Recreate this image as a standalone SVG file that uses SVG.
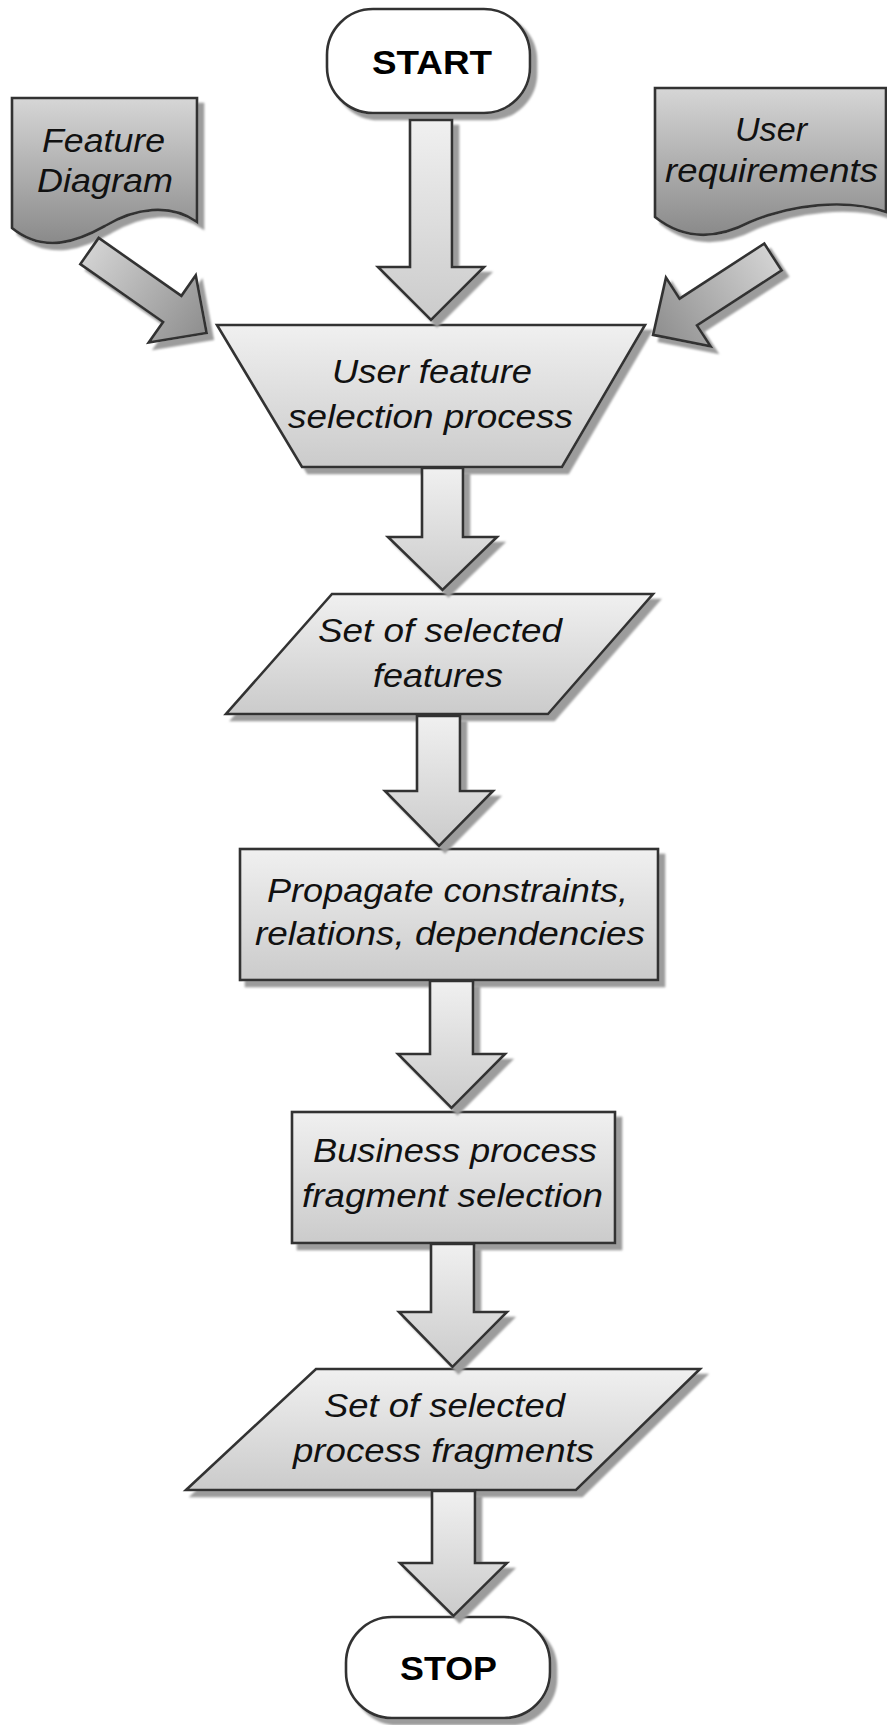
<svg xmlns="http://www.w3.org/2000/svg" width="887" height="1725" viewBox="0 0 887 1725">
  <defs>
    <linearGradient id="gLight" x1="0" y1="0" x2="0" y2="1">
      <stop offset="0" stop-color="#f0f0f0"/>
      <stop offset="1" stop-color="#cbcbcb"/>
    </linearGradient>
    <linearGradient id="gDoc" x1="0" y1="0" x2="0" y2="1">
      <stop offset="0" stop-color="#d6d6d6"/>
      <stop offset="1" stop-color="#8a8a8a"/>
    </linearGradient>
    <linearGradient id="gDiag" x1="0" y1="0" x2="1" y2="0">
      <stop offset="0" stop-color="#d2d2d2"/>
      <stop offset="1" stop-color="#8e8e8e"/>
    </linearGradient>
    <filter id="shadow" x="-15%" y="-15%" width="140%" height="140%">
      <feDropShadow dx="6" dy="6" stdDeviation="1" flood-color="#9c9c9c" flood-opacity="1"/>
    </filter>
  </defs>
  <style>
    .shape { stroke: #333; stroke-width: 2.6; stroke-linejoin: miter; }
    .lbl { font-family: "Liberation Sans", Arial, sans-serif; font-style: italic; font-size: 33px; fill: #111; }
    .term { font-family: "Liberation Sans", Arial, sans-serif; font-weight: bold; font-size: 34px; fill: #000; }
  </style>

  <rect x="0" y="0" width="887" height="1725" fill="#fff"/>

  <!-- start terminal -->
  <g id="start">
    <rect class="shape" x="327" y="9" width="203" height="104" rx="46" ry="46" fill="#fff" filter="url(#shadow)"/>
    <text class="term" x="372" y="74" textLength="120" lengthAdjust="spacingAndGlyphs">START</text>
  </g>

  <!-- input documents -->
  <g id="feature-diagram">
    <path class="shape" fill="url(#gDoc)" filter="url(#shadow)"
          d="M12,98 H197 V222 C170,203 135,208 105,226 C80,240 45,255 12,228 Z"/>
    <text class="lbl" x="42" y="152" textLength="123" lengthAdjust="spacingAndGlyphs">Feature</text>
    <text class="lbl" x="37" y="192" textLength="136" lengthAdjust="spacingAndGlyphs">Diagram</text>
  </g>

  <g id="user-requirements">
    <path class="shape" fill="url(#gDoc)" filter="url(#shadow)"
          d="M655,88 H886 V212 C845,198 790,205 750,222 C725,235 690,245 655,217 Z"/>
    <text class="lbl" x="735" y="141" textLength="72" lengthAdjust="spacingAndGlyphs">User</text>
    <text class="lbl" x="665" y="182" textLength="213" lengthAdjust="spacingAndGlyphs">requirements</text>
  </g>

  <!-- selection process (manual operation) -->
  <g id="user-selection">
    <polygon class="shape" fill="url(#gLight)" filter="url(#shadow)" points="217,325 645,325 562,467 302,467"/>
    <text class="lbl" x="332" y="383" textLength="200" lengthAdjust="spacingAndGlyphs">User feature</text>
    <text class="lbl" x="288" y="428" textLength="285" lengthAdjust="spacingAndGlyphs">selection process</text>
  </g>

  <g id="selected-features">
    <polygon class="shape" fill="url(#gLight)" filter="url(#shadow)" points="332,594 653,594 548,714 226,714"/>
    <text class="lbl" x="318" y="642" textLength="244" lengthAdjust="spacingAndGlyphs">Set of selected</text>
    <text class="lbl" x="373" y="687" textLength="130" lengthAdjust="spacingAndGlyphs">features</text>
  </g>

  <g id="propagate">
    <rect class="shape" fill="url(#gLight)" filter="url(#shadow)" x="240" y="849" width="418" height="131"/>
    <text class="lbl" x="267" y="902" textLength="361" lengthAdjust="spacingAndGlyphs">Propagate constraints,</text>
    <text class="lbl" x="255" y="945" textLength="390" lengthAdjust="spacingAndGlyphs">relations, dependencies</text>
  </g>

  <g id="fragment-selection">
    <rect class="shape" fill="url(#gLight)" filter="url(#shadow)" x="292" y="1112" width="323" height="131"/>
    <text class="lbl" x="313" y="1162" textLength="284" lengthAdjust="spacingAndGlyphs">Business process</text>
    <text class="lbl" x="302" y="1207" textLength="301" lengthAdjust="spacingAndGlyphs">fragment selection</text>
  </g>

  <g id="selected-fragments">
    <polygon class="shape" fill="url(#gLight)" filter="url(#shadow)" points="316,1369 700,1369 576,1490 186,1490"/>
    <text class="lbl" x="324" y="1417" textLength="241" lengthAdjust="spacingAndGlyphs">Set of selected</text>
    <text class="lbl" x="293" y="1462" textLength="301" lengthAdjust="spacingAndGlyphs">process fragments</text>
  </g>

  <!-- stop terminal -->
  <g id="stop">
    <rect class="shape" x="346" y="1617" width="204" height="101" rx="46" ry="46" fill="#fff" filter="url(#shadow)"/>
    <text class="term" x="400" y="1680" textLength="97" lengthAdjust="spacingAndGlyphs">STOP</text>
  </g>

  <!-- block arrows -->
  <g id="connectors">
    <polygon class="shape" fill="url(#gLight)" filter="url(#shadow)"
             points="410,120 452,120 452,267 484,267 431,320 378,267 410,267"/>
    <polygon class="shape" fill="url(#gLight)" filter="url(#shadow)"
             points="422,468 463,468 463,537 497,537 442.5,590 388,537 422,537"/>
    <polygon class="shape" fill="url(#gLight)" filter="url(#shadow)"
             points="417,716 460,716 460,791 493,791 439,846 385,791 417,791"/>
    <polygon class="shape" fill="url(#gLight)" filter="url(#shadow)"
             points="430,981 473,981 473,1054 505,1054 451.5,1108 398,1054 430,1054"/>
    <polygon class="shape" fill="url(#gLight)" filter="url(#shadow)"
             points="431,1244 474,1244 474,1312 507,1312 452.5,1367 399,1312 431,1312"/>
    <polygon class="shape" fill="url(#gLight)" filter="url(#shadow)"
             points="432,1491 475,1491 475,1563 507,1563 453.5,1616 400,1563 432,1563"/>
    <g filter="url(#shadow)">
      <polygon class="shape" fill="url(#gDiag)" transform="translate(89.5,251) rotate(35)"
               points="0,-16 101,-16 101,-41 143,0 101,41 101,16 0,16"/>
    </g>
    <g filter="url(#shadow)">
      <polygon class="shape" fill="url(#gDiag)" transform="translate(773,257) rotate(147)"
               points="0,-16 101,-16 101,-41 143,0 101,41 101,16 0,16"/>
    </g>
  </g>
</svg>
